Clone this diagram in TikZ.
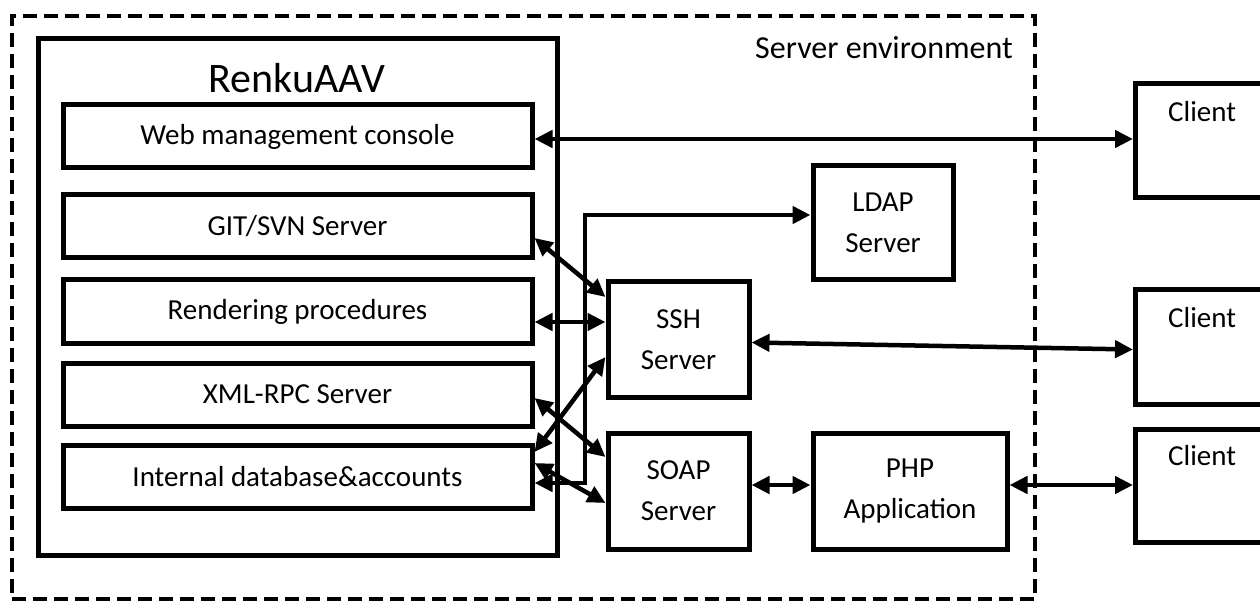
\documentclass[tikz,border=0pt]{standalone}
\usepackage{fontspec}
\setmainfont{Carlito}
\usetikzlibrary{arrows.meta,calc}
\begin{document}
\begin{tikzpicture}[x=1pt,y=-1pt,
  box/.style={draw, line width=5pt, rectangle, inner sep=0pt, font=\fontsize{29}{41}\selectfont, align=center},
  envbox/.style={draw, line width=4.5pt, dash pattern=on 14pt off 7pt, inner sep=0pt},
  tip/.tip={Triangle[length=18pt 0 0,width=17pt 0 0]},
  dbl/.style={line width=4.5pt, arrows={tip-tip}},
  lbl/.style={font=\fontsize{29}{41}\selectfont, inner sep=0pt},
  leftbox/.style={box, minimum width=469pt, minimum height=63pt},
  clientbox/.style={box, minimum width=170pt, anchor=north west}]
\useasboundingbox (0,0) rectangle (1260,601);
% server environment
\node[envbox, minimum width=1023pt, minimum height=583pt] (env) at (523.5,307.5) {};
\node[anchor=base east, inner sep=0pt, font=\fontsize{32}{40}\selectfont] (envlbl) at (1013,59) {Server environment};
% RenkuAAV
\node[box, minimum width=519pt, minimum height=516pt] (renku) at (297.5,297) {};
\node[font=\fontsize{42}{50}\selectfont, anchor=base, inner sep=0pt] (title) at (297,93) {RenkuAAV};
\node[leftbox] (web) at (297.5,136.5) {Web management console};
\node[leftbox] (git) at (297.5,226.5) {GIT/SVN Server};
\node[leftbox] (rend) at (297.5,311.5) {Rendering procedures};
\node[leftbox] (xml) at (297.5,394.5) {XML-RPC Server};
\node[leftbox] (intdb) at (297.5,476.5) {Internal database\&accounts};
% servers
\node[box, minimum width=140pt, minimum height=114pt] (ldap) at (883,223) {LDAP\\Server};
\node[box, minimum width=141pt, minimum height=115pt] (ssh) at (678.5,339.5) {SSH\\Server};
\node[box, minimum width=141pt, minimum height=116pt] (soap) at (678.5,491) {SOAP\\Server};
\node[box, minimum width=194pt, minimum height=116pt] (php) at (910,491) {PHP\\Application};
% clients
\node[clientbox, minimum height=114pt] (c1) at (1133,81) {};
\node[clientbox, minimum height=115pt] (c2) at (1133,287) {};
\node[clientbox, minimum height=113pt] (c3) at (1133,427) {};
\node[lbl, anchor=west] (c1t) at (1168,112) {Client};
\node[lbl, anchor=west] (c2t) at (1168,318) {Client};
\node[lbl, anchor=west] (c3t) at (1168,456) {Client};
\coordinate (lx) at (585,0);
% connectors
\draw[dbl] ([yshift=-2.5pt]web.east) -- ([yshift=-2.5pt]web.east -| c1.west);
\draw[dbl] ([yshift=-11.5pt]git.east) -- ([yshift=42.5pt]ssh.west);
\draw[dbl] ([yshift=-10.5pt]rend.east) -- ([yshift=-10.5pt]rend.east -| ssh.west);
\draw[dbl] ([yshift=-3.5pt]xml.east) -- ([yshift=34pt]soap.west);
\draw[dbl] ([yshift=24.5pt]intdb.east) -- ([yshift=-17.5pt]ssh.west);
\draw[dbl] ([yshift=13.5pt]intdb.east) -- ([yshift=-12pt]soap.west);
\draw[dbl] ([yshift=-6.5pt]intdb.east) -- ([yshift=-6.5pt]intdb.east -| lx) -- ([yshift=8pt]ldap.west -| lx) -- ([yshift=8pt]ldap.west);
\draw[dbl] ([yshift=-3pt]ssh.east) -- ([yshift=-2.5pt]c2.west);
\draw[dbl] ([yshift=6pt]soap.east) -- ([yshift=6pt]php.west);
\draw[dbl] ([yshift=6pt]php.east) -- ([yshift=6pt]php.east -| c3.west);
\end{tikzpicture}
\end{document}
